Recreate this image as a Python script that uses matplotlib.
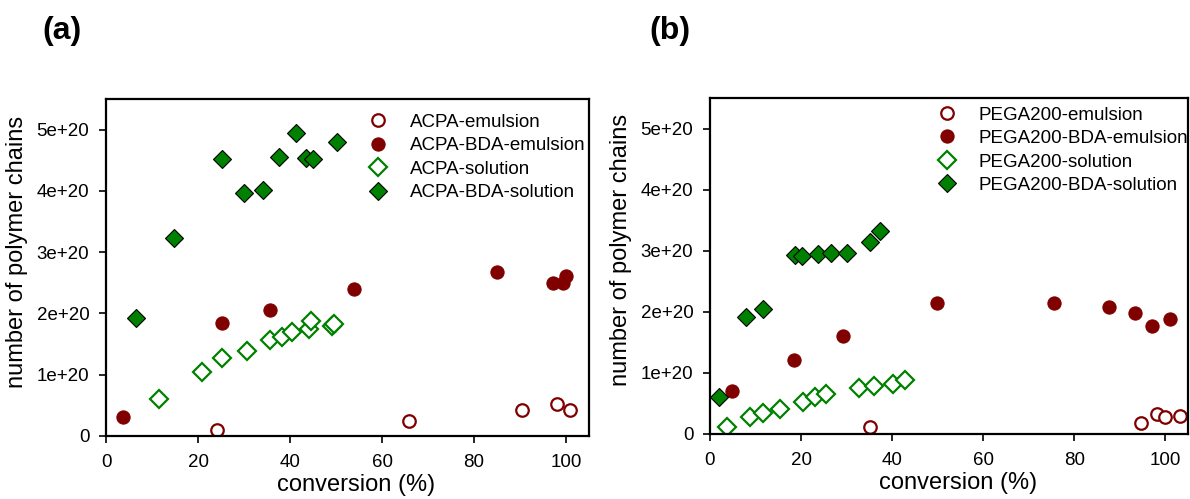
import matplotlib
matplotlib.use("Agg")
import matplotlib.pyplot as plt

plt.rcParams['font.family'] = ['Liberation Sans', 'DejaVu Sans']

# ---- panel (a): ACPA initiator ----
a_emul_x = [24.1, 65.9, 90.4, 98.0, 100.9]
a_emul_y = [0.10e20, 0.25e20, 0.43e20, 0.52e20, 0.43e20]

a_bda_emul_x = [3.6, 25.2, 35.7, 53.8, 84.9, 97.1, 99.4, 99.9]
a_bda_emul_y = [0.31e20, 1.84e20, 2.06e20, 2.40e20, 2.68e20, 2.49e20, 2.49e20, 2.61e20]

a_sol_x = [11.5, 20.9, 25.2, 30.6, 35.7, 38.2, 40.4, 44.2, 44.6, 49.1, 49.6]
a_sol_y = [0.61e20, 1.04e20, 1.28e20, 1.39e20, 1.56e20, 1.62e20, 1.69e20,
           1.75e20, 1.88e20, 1.80e20, 1.83e20]

a_bda_sol_x = [6.5, 14.8, 25.2, 30.0, 34.1, 37.5, 41.3, 43.4, 45.1, 50.3]
a_bda_sol_y = [1.93e20, 3.23e20, 4.52e20, 3.96e20, 4.02e20, 4.56e20, 4.94e20,
               4.54e20, 4.52e20, 4.80e20]

a_labels = ["ACPA-emulsion", "ACPA-BDA-emulsion", "ACPA-solution", "ACPA-BDA-solution"]

# ---- panel (b): PEGA200 ----
b_emul_x = [35.2, 94.7, 98.3, 99.9, 103.2]
b_emul_y = [0.11e20, 0.18e20, 0.32e20, 0.27e20, 0.29e20]

b_bda_emul_x = [4.9, 18.4, 29.2, 49.9, 75.5, 87.7, 93.4, 97.2, 101.1]
b_bda_emul_y = [0.70e20, 1.21e20, 1.60e20, 2.14e20, 2.14e20, 2.08e20, 1.98e20,
                1.77e20, 1.88e20]

b_sol_x = [3.8, 8.8, 11.7, 15.3, 20.4, 23.1, 25.4, 32.7, 36.1, 40.1, 42.8]
b_sol_y = [0.11e20, 0.27e20, 0.34e20, 0.41e20, 0.53e20, 0.60e20, 0.65e20,
           0.75e20, 0.78e20, 0.82e20, 0.89e20]

b_bda_sol_x = [2.0, 7.9, 11.6, 18.6, 20.3, 23.7, 26.6, 30.0, 35.1, 37.3]
b_bda_sol_y = [0.60e20, 1.92e20, 2.05e20, 2.93e20, 2.91e20, 2.95e20, 2.96e20,
               2.97e20, 3.15e20, 3.32e20]

b_labels = ["PEGA200-emulsion", "PEGA200-BDA-emulsion", "PEGA200-solution",
            "PEGA200-BDA-solution"]

x_ticks = [0, 20, 40, 60, 80, 100]
y_ticks = [0, 1e20, 2e20, 3e20, 4e20, 5e20]
y_tick_labels = ["0", "1e+20", "2e+20", "3e+20", "4e+20", "5e+20"]

RED = "#800000"
GREEN = "#008000"


def draw_panel(ax, series, labels, legend_anchor):
    (ex, ey), (bex, bey), (sx, sy), (bsx, bsy) = series
    ax.plot(ex, ey, ls="none", marker="o", ms=9, mfc="white", mec=RED, mew=1.6,
            label=labels[0])
    ax.plot(bex, bey, ls="none", marker="o", ms=9.5, mfc=RED, mec=RED, mew=0.8,
            label=labels[1])
    ax.plot(sx, sy, ls="none", marker="D", ms=9, mfc="white", mec=GREEN, mew=1.6,
            label=labels[2])
    ax.plot(bsx, bsy, ls="none", marker="D", ms=9.5, mfc=GREEN, mec="black", mew=0.8,
            label=labels[3])

    ax.set_xlim(0, 105)
    ax.set_ylim(0, 5.5e20)
    ax.set_xticks(x_ticks)
    ax.set_xticklabels([str(t) for t in x_ticks])
    ax.set_yticks(y_ticks)
    ax.set_yticklabels(y_tick_labels)
    ax.tick_params(axis="x", direction="out", length=5, width=1.2, labelsize=13.5, pad=8)
    ax.tick_params(axis="y", direction="out", length=5, width=1.2, labelsize=13.5, pad=7)
    for sp in ax.spines.values():
        sp.set_linewidth(1.6)
    ax.set_xlabel("conversion (%)", fontsize=17, labelpad=2)
    ax.set_ylabel("number of polymer chains", fontsize=17, labelpad=6)
    ax.xaxis.label.set_x(0.518)
    ax.yaxis.label.set_y(0.547)
    ax.legend(loc="upper left", bbox_to_anchor=legend_anchor, frameon=False,
              fontsize=13.5, borderpad=0, handlelength=1.0, handletextpad=1.2,
              labelspacing=0.34, borderaxespad=0)


fig = plt.figure(figsize=(11.9, 4.99), dpi=100)
ax_a = fig.add_axes([0.0891, 0.1263, 0.4059, 0.6753])
ax_b = fig.add_axes([0.5966, 0.1303, 0.4017, 0.6733])

draw_panel(ax_a,
           [(a_emul_x, a_emul_y), (a_bda_emul_x, a_bda_emul_y),
            (a_sol_x, a_sol_y), (a_bda_sol_x, a_bda_sol_y)],
           a_labels, (0.544, 0.956))
draw_panel(ax_b,
           [(b_emul_x, b_emul_y), (b_bda_emul_x, b_bda_emul_y),
            (b_sol_x, b_sol_y), (b_bda_sol_x, b_bda_sol_y)],
           b_labels, (0.4755, 0.975))

fig.text(42 / 1190, 1 - 31 / 499, "(a)", fontsize=23, fontweight="bold",
         ha="left", va="center")
fig.text(649 / 1190, 1 - 31 / 499, "(b)", fontsize=23, fontweight="bold",
         ha="left", va="center")

fig.savefig("out.png", dpi=100)
